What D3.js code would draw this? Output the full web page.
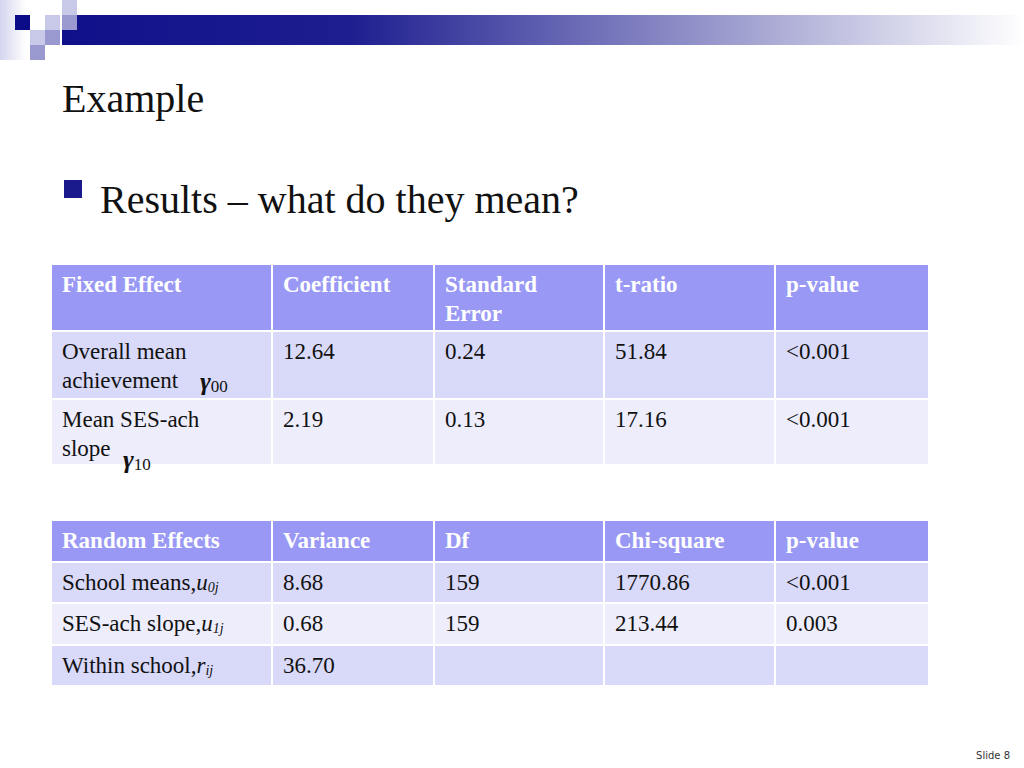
<!DOCTYPE html>
<html><head><meta charset="utf-8">
<script src="https://cdn.jsdelivr.net/npm/d3@7"></script>
<style>body{margin:0;background:#fff}</style>
</head><body><div id="slide"></div>
<script>
const fixedHeaders = ['Fixed Effect', 'Coefficient', 'Standard|Error', 't-ratio', 'p-value'];
const fixedRows = [
  ['Overall mean|achievement', '12.64', '0.24', '51.84', '<0.001'],
  ['Mean SES-ach|slope', '2.19', '0.13', '17.16', '<0.001']
];
const fixedGammas = ['00', '10'];
const randomHeaders = ['Random Effects', 'Variance', 'Df', 'Chi-square', 'p-value'];
const randomRows = [
  ['School means,', '8.68', '159', '1770.86', '<0.001'],
  ['SES-ach slope, ', '0.68', '159', '213.44', '0.003'],
  ['Within school, ', '36.70', '', '', '']
];
const randomTerms = [['u', '0j'], ['u', '1j'], ['r', 'ij']];

const width = 1024, height = 768;
const svg = d3.select('#slide').append('svg')
  .attr('width', width).attr('height', height)
  .style('font-family', '"Liberation Serif", serif');

// header decoration
const defs = svg.append('defs');
const g1 = defs.append('linearGradient').attr('id', 'bar');
g1.append('stop').attr('offset', 0).attr('stop-color', '#10108a');
g1.append('stop').attr('offset', 0.3).attr('stop-color', '#1e1e90');
g1.append('stop').attr('offset', 1).attr('stop-color', '#ffffff');
const g2 = defs.append('linearGradient').attr('id', 'strip');
g2.append('stop').attr('offset', 0).attr('stop-color', '#d4d4ee');
g2.append('stop').attr('offset', 1).attr('stop-color', '#ffffff');
svg.append('rect').attr('x', 0).attr('y', 0).attr('width', 26).attr('height', 60).attr('fill', 'url(#strip)');
svg.append('rect').attr('x', 62).attr('y', 15).attr('width', 962).attr('height', 30).attr('fill', 'url(#bar)');
const squares = [
  [15, 15, '#0c0c88'], [45, 15, '#c8c8e8'], [62, 0, '#c8c8e8'], [62, 15, '#9999d0'],
  [30, 30, '#c8c8e8'], [45, 30, '#9999d0'], [30, 45, '#9999d0']
];
svg.selectAll('rect.sq').data(squares).join('rect').attr('class', 'sq')
  .attr('x', d => d[0]).attr('y', d => d[1]).attr('width', 15).attr('height', 15).attr('fill', d => d[2]);

svg.append('text').attr('x', 62).attr('y', 112).attr('font-size', 40).attr('fill', '#111').text('Example');
svg.append('rect').attr('x', 64).attr('y', 180).attr('width', 18).attr('height', 18).attr('fill', '#1a1a8c');
svg.append('text').attr('x', 100).attr('y', 213).attr('font-size', 40).attr('fill', '#111').text('Results – what do they mean?');

const x = d3.scaleOrdinal().domain(d3.range(5)).range([52, 273, 435, 605, 776]);
const colEnd = [273, 435, 605, 776, 930];

function drawTable(top, rowHeights, headers, rows, fills) {
  const ys = d3.cumsum([top, ...rowHeights]);
  const all = [headers, ...rows];
  all.forEach((row, r) => {
    const g = svg.append('g');
    g.selectAll('rect').data(row).join('rect')
      .attr('x', (d, i) => x(i)).attr('y', ys[r])
      .attr('width', (d, i) => colEnd[i] - x(i) - 2).attr('height', rowHeights[r] - 2)
      .attr('fill', fills[r]);
    g.selectAll('text').data(row).join('text')
      .attr('x', (d, i) => x(i) + 10).attr('y', ys[r] + 27)
      .attr('font-size', 23).attr('font-weight', r === 0 ? 'bold' : 'normal')
      .attr('fill', r === 0 ? '#fff' : '#111')
      .each(function(d) {
        d.split('|').forEach((line, k) => {
          d3.select(this).append('tspan').attr('x', d3.select(this).attr('x')).attr('dy', k ? 29 : 0).text(line);
        });
      });
  });
  return ys;
}

const dark = '#d9d9f9', light = '#ededfc', head = '#9999f5';
const ys1 = drawTable(265, [67, 68, 66], fixedHeaders, fixedRows, [head, dark, light]);
// gamma symbols
const gpos = [[200, ys1[1] + 58], [123, ys1[2] + 68]];
fixedGammas.forEach((s, i) => {
  const t = svg.append('text').attr('x', gpos[i][0]).attr('y', gpos[i][1]).attr('fill', '#111');
  t.append('tspan').attr('font-size', 26).attr('font-style', 'italic').attr('font-weight', 'bold').text('γ');
  t.append('tspan').attr('font-size', 17).attr('dy', 2).text(s);
});

const ys2 = drawTable(521, [42, 41, 42, 41], randomHeaders, randomRows, [head, dark, light, dark]);
randomTerms.forEach((t, i) => {
  const lbl = svg.selectAll('text').filter(function() { return d3.select(this).text() === randomRows[i][0]; });
  const node = lbl.node();
  const tx = node.getComputedTextLength() + 62;
  const tt = svg.append('text').attr('x', tx).attr('y', ys2[i + 1] + 27).attr('fill', '#111').attr('font-style', 'italic');
  tt.append('tspan').attr('font-size', 23).text(t[0]);
  tt.append('tspan').attr('font-size', 14).attr('dy', 2).text(t[1]);
});

svg.append('text').attr('x', 1010).attr('y', 759).attr('text-anchor', 'end')
  .attr('font-family', '"DejaVu Sans", sans-serif').attr('font-size', 10).attr('fill', '#333').text('Slide 8');
</script></body></html>
